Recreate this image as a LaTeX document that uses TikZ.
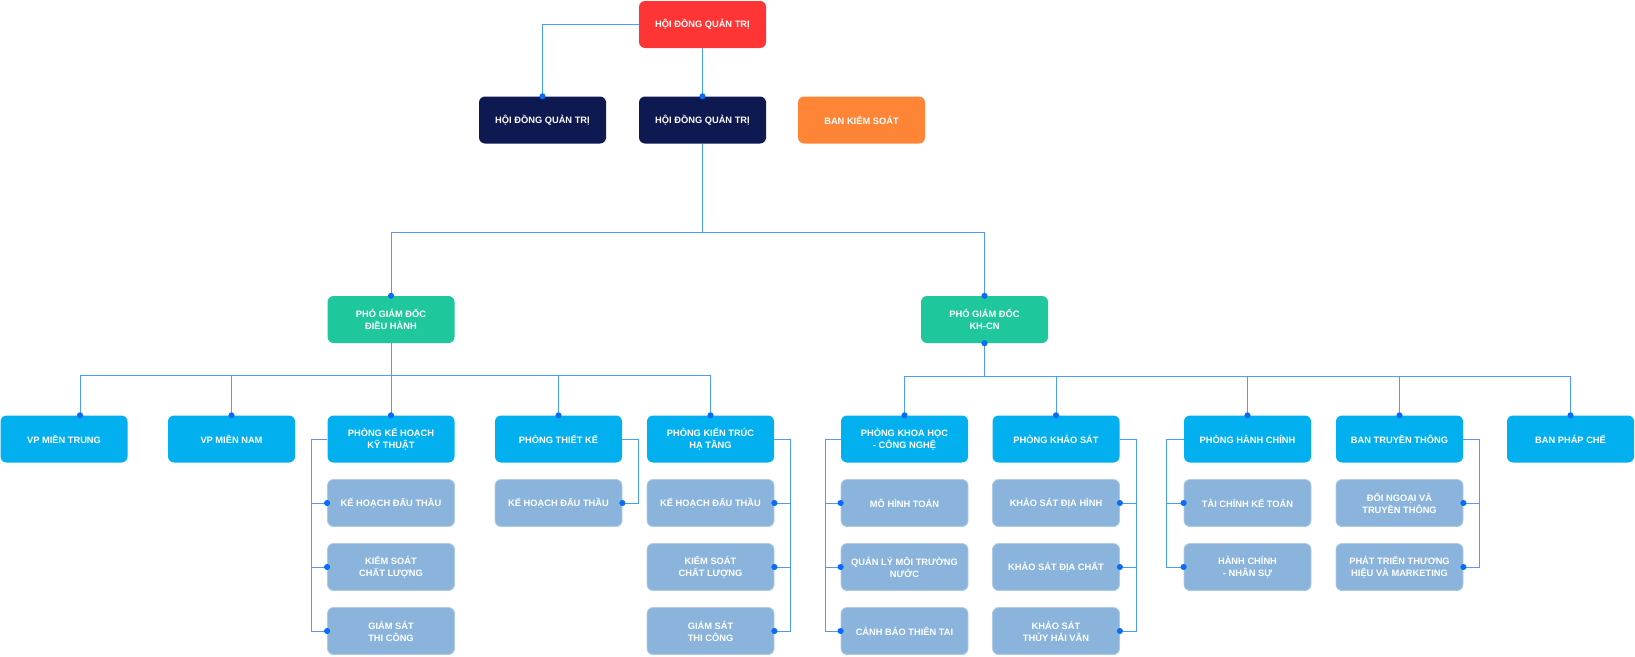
\documentclass[tikz,border=0pt]{standalone}
\usepackage{fontspec}
\setmainfont{Liberation Sans}
\usetikzlibrary{arrows.meta,positioning}

\definecolor{boardred}{HTML}{FF3535}
\definecolor{councilnavy}{HTML}{0E1851}
\definecolor{ctrlorange}{HTML}{FF8536}
\definecolor{vicegreen}{HTML}{1FC79C}
\definecolor{deptblue}{HTML}{02B0F0}
\definecolor{unitblue}{HTML}{8AB4DC}
\definecolor{linkblue}{HTML}{4C9BFA}
\definecolor{dotblue}{HTML}{0B6BF5}

\begin{document}
\begin{tikzpicture}[x=1pt,y=-1pt,>={Circle[length=6pt,color=dotblue]},
                    box/.style={rectangle,rounded corners=6pt,minimum width=127pt,
                                minimum height=47pt,inner sep=0pt,align=center,text=white,
                                font=\fontsize{9.3}{12}\selectfont\bfseries},
                    board/.style={box,fill=boardred},
                    council/.style={box,fill=councilnavy},
                    ctrl/.style={box,fill=ctrlorange},
                    vice/.style={box,fill=vicegreen},
                    dept/.style={box,fill=deptblue},
                    unit/.style={box,fill=unitblue,draw=unitblue!70!white,line width=0.8pt},
                    plain/.style={draw=linkblue,line width=1pt},
                    link/.style={plain,->,shorten >=-3pt},
                    node distance=64pt]

  \useasboundingbox (0,0) rectangle (1635,656);

  % top
  \node[board](HDQT) at (702.5,24.5)   {HỘI ĐỒNG QUẢN TRỊ};
  \node[council](HDQT2) [below of=HDQT, node distance=95.5pt] {HỘI ĐỒNG QUẢN TRỊ};
  \node[council](HDQT1) [left of=HDQT2, node distance=160pt]  {HỘI ĐỒNG QUẢN TRỊ};
  \node[ctrl](BKS) [right of=HDQT2, node distance=159pt]      {BAN KIỂM SOÁT};

  \node[vice](PGD1) at (391,319.5)   {PHÓ GIÁM ĐỐC\\ĐIỀU HÀNH};
  \node[vice](PGD2) [right of=PGD1, node distance=593.5pt] {PHÓ GIÁM ĐỐC\\KH-CN};

  % departments
  \node[dept](PKHKT) [below of=PGD1, node distance=119.5pt] {PHÒNG KẾ HOẠCH\\KỸ THUẬT};
  \node[dept](VPMN) [left of=PKHKT, node distance=159.5pt]  {VP MIỀN NAM};
  \node[dept](VPMT) [left of=VPMN, node distance=167.5pt]   {VP MIỀN TRUNG};
  \node[dept](PTK) [right of=PKHKT, node distance=167.5pt]  {PHÒNG THIẾT KẾ};
  \node[dept](PKTHT) [right of=PTK, node distance=152pt]    {PHÒNG KIẾN TRÚC\\HẠ TẦNG};
  \node[dept](PKHCN) [right of=PKTHT, node distance=194pt]  {PHÒNG KHOA HỌC\\- CÔNG NGHỆ};
  \node[dept](PKS) [right of=PKHCN, node distance=151.5pt]  {PHÒNG KHẢO SÁT};
  \node[dept](PHC) [right of=PKS, node distance=191.5pt]    {PHÒNG HÀNH CHÍNH};
  \node[dept](BTT) [right of=PHC, node distance=152pt]      {BAN TRUYỀN THÔNG};
  \node[dept](BPC) [right of=BTT, node distance=171pt]      {BAN PHÁP CHẾ};

  % units
  \node[unit](KH1) [below of=PKHKT] {KẾ HOẠCH ĐẤU THẦU};
  \node[unit](KS1) [below of=KH1]   {KIỂM SOÁT\\CHẤT LƯỢNG};
  \node[unit](GS1) [below of=KS1]   {GIÁM SÁT\\THI CÔNG};
  \node[unit](KH2) [below of=PTK]   {KẾ HOẠCH ĐẤU THẦU};
  \node[unit](KH3) [below of=PKTHT] {KẾ HOẠCH ĐẤU THẦU};
  \node[unit](KS3) [below of=KH3]   {KIỂM SOÁT\\CHẤT LƯỢNG};
  \node[unit](GS3) [below of=KS3]   {GIÁM SÁT\\THI CÔNG};
  \node[unit](MHT) [below of=PKHCN] {MÔ HÌNH TOÁN};
  \node[unit](QLN) [below of=MHT]   {QUẢN LÝ MÔI TRƯỜNG\\NƯỚC};
  \node[unit](CBT) [below of=QLN]   {CẢNH BÁO THIÊN TAI};
  \node[unit](KSH) [below of=PKS]   {KHẢO SÁT ĐỊA HÌNH};
  \node[unit](KSC) [below of=KSH]   {KHẢO SÁT ĐỊA CHẤT};
  \node[unit](KSV) [below of=KSC]   {KHẢO SÁT\\THỦY HẢI VĂN};
  \node[unit](TCK) [below of=PHC]   {TÀI CHÍNH KẾ TOÁN};
  \node[unit](HCN) [below of=TCK]   {HÀNH CHÍNH\\- NHÂN SỰ};
  \node[unit](DNT) [below of=BTT]   {ĐỐI NGOẠI VÀ\\TRUYỀN THÔNG};
  \node[unit](PTT) [below of=DNT]   {PHÁT TRIỂN THƯƠNG\\HIỆU VÀ MARKETING};

  % buses
  \node[coordinate](busT) [below of=HDQT2, node distance=112pt] {};
  \node[coordinate](busL) [below of=PGD1, node distance=55.5pt] {};
  \node[coordinate](busR) [below of=PGD2, node distance=57pt] {};

  \draw[link] (HDQT.west) -| (HDQT1.north);
  \draw[link] (HDQT) -- (HDQT2);
  \draw[plain] (HDQT2) -- (busT);
  \draw[link] (busT) -| (PGD1.north);
  \draw[link] (busT) -| (PGD2.north);

  \draw[plain] (PGD1) -- (busL);
  \draw[link] (busL) -| ([xshift=16pt]VPMT.north);
  \foreach \n in {VPMN,PKHKT,PTK,PKTHT}
    \draw[link] (busL) -| (\n.north);

  \draw[plain,<-,shorten <=-3pt] (PGD2.south) -- (busR);
  \foreach \n in {PKHCN,PKS,PHC,BTT,BPC}
    \draw[link] (busR) -| (\n.north);

  % brackets
  \foreach \n in {KH1,KS1,GS1}
    \draw[link] (PKHKT.west) -- ++(-16,0) |- (\n.west);
  \draw[link] (PTK.east) -- ++(16,0) |- (KH2.east);
  \foreach \n in {KH3,KS3,GS3}
    \draw[link] (PKTHT.east) -- ++(16,0) |- (\n.east);
  \foreach \n in {MHT,QLN,CBT}
    \draw[link] (PKHCN.west) -- ++(-15,0) |- (\n.west);
  \foreach \n in {KSH,KSC,KSV}
    \draw[link] (PKS.east) -- ++(17,0) |- (\n.east);
  \foreach \n in {TCK,HCN}
    \draw[link] (PHC.west) -- ++(-17,0) |- (\n.west);
  \foreach \n in {DNT,PTT}
    \draw[link] (BTT.east) -- ++(16,0) |- (\n.east);

\end{tikzpicture}
\end{document}
